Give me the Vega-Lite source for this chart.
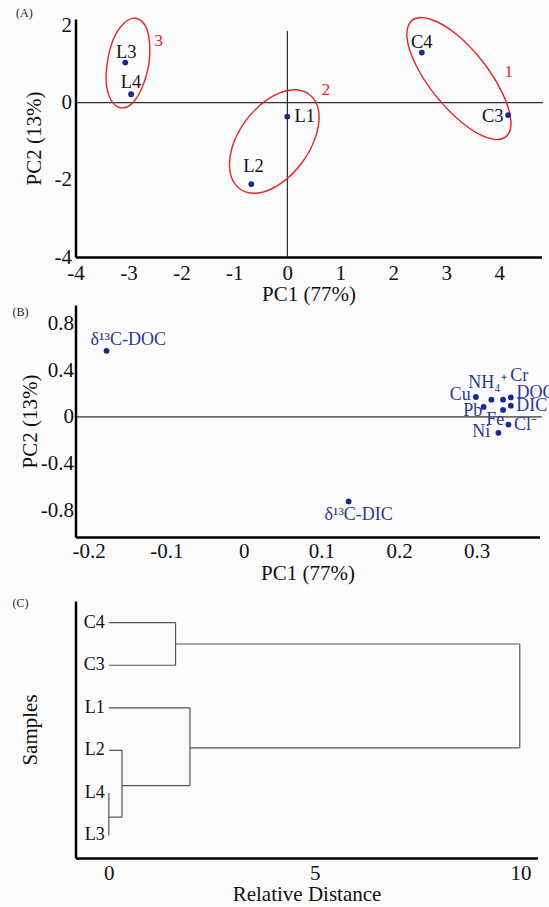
{
  "$schema": "https://vega.github.io/schema/vega-lite/v6.json",
  "background": "#fcfcfc",
  "padding": {"left": 12.5, "top": 7, "right": 0, "bottom": 0},
  "spacing": 0,
  "config": {
    "font": "Liberation Serif",
    "view": {"stroke": null},
    "axis": {
      "grid": false,
      "ticks": false,
      "tickSize": 0,
      "domainColor": "#000",
      "domainWidth": 2.5,
      "labelFont": "Liberation Serif",
      "titleFont": "Liberation Serif",
      "labelFontSize": 21,
      "titleFontSize": 21,
      "labelColor": "#111",
      "titleColor": "#111",
      "titleFontWeight": "normal",
      "labelFlush": false,
      "labelOverlap": false
    },
    "title": {
      "font": "Liberation Serif",
      "fontSize": 12,
      "fontWeight": "normal",
      "anchor": "start",
      "frame": "bounds",
      "color": "#222",
      "offset": 0
    }
  },
  "vconcat": [
    {
      "width": 466,
      "height": 238,
      "title": {"text": "(A)", "dx": -7, "dy": 9.5},
      "encoding": {
        "x": {
          "field": "x", "type": "quantitative",
          "scale": {"domain": [-4, 4.8], "nice": false, "zero": false},
          "axis": {"title": "PC1 (77%)", "values": [-4, -3, -2, -1, 0, 1, 2, 3, 4], "format": "d",
                   "labelFont": "Liberation Serif", "titleFont": "Liberation Serif",
                   "labelExpr": "replace(datum.label, '−', '-')", "labelPadding": 5.7, "titlePadding": 0}
        },
        "y": {
          "field": "y", "type": "quantitative",
          "scale": {"domain": [-4, 2.17], "nice": false, "zero": false},
          "axis": {"title": "PC2 (13%)", "values": [-4, -2, 0, 2], "format": "d",
                   "labelFont": "Liberation Serif", "titleFont": "Liberation Serif",
                   "labelExpr": "replace(datum.label, '−', '-')", "labelPadding": 4, "titlePadding": 10}
        }
      },
      "layer": [
        {
          "data": {"values": [{"x": 0, "y": 1.86, "y2": -4}]},
          "mark": {"type": "rule", "color": "#000", "strokeWidth": 1},
          "encoding": {"y2": {"field": "y2"}}
        },
        {
          "data": {"values": [{"x": -4, "x2": 4.83, "y": 0}]},
          "mark": {"type": "rule", "color": "#000", "strokeWidth": 1},
          "encoding": {"x2": {"field": "x2"}}
        },
        {
          "data": {"values": [
            {"grp": 1, "i": 0, "x": 4.13, "y": -0.88}, {"grp": 1, "i": 1, "x": 4.22, "y": -0.44},
            {"grp": 1, "i": 2, "x": 4.05, "y": 0.28}, {"grp": 1, "i": 3, "x": 3.67, "y": 1.10},
            {"grp": 1, "i": 4, "x": 3.17, "y": 1.80}, {"grp": 1, "i": 5, "x": 2.69, "y": 2.17},
            {"grp": 1, "i": 6, "x": 2.36, "y": 2.14}, {"grp": 1, "i": 7, "x": 2.26, "y": 1.70},
            {"grp": 1, "i": 8, "x": 2.43, "y": 0.97}, {"grp": 1, "i": 9, "x": 2.82, "y": 0.15},
            {"grp": 1, "i": 10, "x": 3.32, "y": -0.54}, {"grp": 1, "i": 11, "x": 3.80, "y": -0.92},
            {"grp": 2, "i": 0, "x": 0.41, "y": 0.22}, {"grp": 2, "i": 1, "x": 0.06, "y": 0.33},
            {"grp": 2, "i": 2, "x": -0.38, "y": 0.08}, {"grp": 2, "i": 3, "x": -0.78, "y": -0.46},
            {"grp": 2, "i": 4, "x": -1.04, "y": -1.15}, {"grp": 2, "i": 5, "x": -1.08, "y": -1.80},
            {"grp": 2, "i": 6, "x": -0.90, "y": -2.23}, {"grp": 2, "i": 7, "x": -0.55, "y": -2.34},
            {"grp": 2, "i": 8, "x": -0.12, "y": -2.09}, {"grp": 2, "i": 9, "x": 0.28, "y": -1.55},
            {"grp": 2, "i": 10, "x": 0.54, "y": -0.86}, {"grp": 2, "i": 11, "x": 0.59, "y": -0.21},
            {"grp": 3, "i": 0, "x": -2.86, "y": 2.19}, {"grp": 3, "i": 1, "x": -3.07, "y": 2.08},
            {"grp": 3, "i": 2, "x": -3.27, "y": 1.69}, {"grp": 3, "i": 3, "x": -3.39, "y": 1.12},
            {"grp": 3, "i": 4, "x": -3.42, "y": 0.53}, {"grp": 3, "i": 5, "x": -3.33, "y": 0.07},
            {"grp": 3, "i": 6, "x": -3.15, "y": -0.13}, {"grp": 3, "i": 7, "x": -2.94, "y": -0.03},
            {"grp": 3, "i": 8, "x": -2.75, "y": 0.37}, {"grp": 3, "i": 9, "x": -2.62, "y": 0.94},
            {"grp": 3, "i": 10, "x": -2.60, "y": 1.53}, {"grp": 3, "i": 11, "x": -2.68, "y": 1.99}
          ]},
          "mark": {"type": "line", "interpolate": "cardinal-closed", "color": "#e4232b", "strokeWidth": 1.4},
          "encoding": {"detail": {"field": "grp"}, "order": {"field": "i", "type": "quantitative"}}
        },
        {
          "data": {"values": [
            {"s": "L3", "x": -3.06, "y": 1.04}, {"s": "L4", "x": -2.95, "y": 0.22},
            {"s": "L1", "x": 0.0, "y": -0.36}, {"s": "L2", "x": -0.68, "y": -2.11},
            {"s": "C4", "x": 2.54, "y": 1.30}, {"s": "C3", "x": 4.17, "y": -0.32}
          ]},
          "mark": {"type": "circle", "size": 34, "color": "#1a2a8a", "opacity": 1}
        },
        {
          "data": {"values": [
            {"t": "L3", "x": -3.04, "y": 1.32}, {"t": "L4", "x": -2.95, "y": 0.53},
            {"t": "L1", "x": 0.33, "y": -0.35}, {"t": "L2", "x": -0.64, "y": -1.64},
            {"t": "C4", "x": 2.54, "y": 1.58}, {"t": "C3", "x": 3.88, "y": -0.35}
          ]},
          "mark": {"type": "text", "fontSize": 18.5, "color": "#111"},
          "encoding": {"text": {"field": "t"}}
        },
        {
          "data": {"values": [
            {"t": "1", "x": 4.18, "y": 0.79}, {"t": "2", "x": 0.73, "y": 0.33}, {"t": "3", "x": -2.43, "y": 1.61}
          ]},
          "mark": {"type": "text", "fontSize": 17, "color": "#e4232b"},
          "encoding": {"text": {"field": "t"}}
        }
      ]
    },
    {
      "width": 464,
      "height": 232,
      "title": {"text": "(B)", "dx": -7, "dy": 18},
      "encoding": {
        "x": {
          "field": "x", "type": "quantitative",
          "scale": {"domain": [-0.217, 0.381], "nice": false, "zero": false},
          "axis": {"title": ["PC1 (77%)", ""], "titleLineHeight": 12, "values": [-0.2, -0.1, 0, 0.1, 0.2, 0.3], "format": ".1~f",
                   "labelFont": "Liberation Serif", "titleFont": "Liberation Serif",
                   "labelExpr": "replace(datum.label, '−', '-')", "labelPadding": 3.9, "titlePadding": 1}
        },
        "y": {
          "field": "y", "type": "quantitative",
          "scale": {"domain": [-1.032, 0.962], "nice": false, "zero": false},
          "axis": {"title": "PC2 (13%)", "values": [-0.8, -0.4, 0, 0.4, 0.8], "format": ".1~f",
                   "labelFont": "Liberation Serif", "titleFont": "Liberation Serif",
                   "labelExpr": "replace(datum.label, '−', '-')", "labelPadding": 2, "titlePadding": -0.3}
        }
      },
      "layer": [
        {
          "data": {"values": [{"x": -0.217, "x2": 0.384, "y": 0}]},
          "mark": {"type": "rule", "color": "#000", "strokeWidth": 1},
          "encoding": {"x2": {"field": "x2"}}
        },
        {
          "data": {"values": [
            {"v": "δ13C-DOC", "x": -0.177, "y": 0.568}, {"v": "δ13C-DIC", "x": 0.135, "y": -0.726},
            {"v": "Cu", "x": 0.299, "y": 0.171}, {"v": "NH4+", "x": 0.319, "y": 0.148},
            {"v": "Cr", "x": 0.334, "y": 0.148}, {"v": "DOC", "x": 0.344, "y": 0.168},
            {"v": "Pb", "x": 0.309, "y": 0.086}, {"v": "Fe", "x": 0.334, "y": 0.060},
            {"v": "DIC", "x": 0.344, "y": 0.097}, {"v": "Cl-", "x": 0.341, "y": -0.066},
            {"v": "Ni", "x": 0.328, "y": -0.137}
          ]},
          "mark": {"type": "circle", "size": 34, "color": "#1a2a8a", "opacity": 1}
        },
        {
          "data": {"values": [
            {"t": "δ¹³C-DOC", "x": -0.149, "y": 0.662}, {"t": "δ¹³C-DIC", "x": 0.148, "y": -0.846},
            {"t": "NH₄⁺", "x": 0.314, "y": 0.294}, {"t": "Cr", "x": 0.355, "y": 0.348},
            {"t": "DOC", "x": 0.376, "y": 0.206}, {"t": "DIC", "x": 0.371, "y": 0.091},
            {"t": "Cu", "x": 0.279, "y": 0.191}, {"t": "Pb", "x": 0.295, "y": 0.048},
            {"t": "Fe", "x": 0.324, "y": -0.023}, {"t": "Cl⁻", "x": 0.363, "y": -0.066},
            {"t": "Ni", "x": 0.306, "y": -0.126}
          ]},
          "mark": {"type": "text", "fontSize": 18, "color": "#2b3a90"},
          "encoding": {"text": {"field": "t"}}
        }
      ]
    },
    {
      "width": 462,
      "height": 257,
      "title": {"text": "(C)", "dx": -7, "dy": 12.6},
      "encoding": {
        "x": {
          "field": "x", "type": "quantitative",
          "scale": {"domain": [-0.81, 10.41], "nice": false, "zero": false},
          "axis": {"title": "Relative Distance", "values": [0, 5, 10], "format": "d",
                   "labelFont": "Liberation Serif", "titleFont": "Liberation Serif",
                   "labelPadding": 4.7, "titlePadding": 0}
        },
        "y": {
          "field": "y", "type": "quantitative",
          "scale": {"domain": [0.47, 6.51], "nice": false, "zero": false},
          "axis": {"title": "Samples", "labels": false, "values": [], "titleFont": "Liberation Serif", "titlePadding": 35}
        }
      },
      "layer": [
        {
          "data": {"values": [
            {"x": 0, "x2": 1.62, "y": 6, "y2": 6},
            {"x": 0, "x2": 1.62, "y": 5, "y2": 5},
            {"x": 1.62, "x2": 1.62, "y": 5, "y2": 6},
            {"x": 1.62, "x2": 9.98, "y": 5.5, "y2": 5.5},
            {"x": 0, "x2": 1.97, "y": 4, "y2": 4},
            {"x": 0, "x2": 0.32, "y": 3, "y2": 3},
            {"x": 0, "x2": 0, "y": 1, "y2": 2},
            {"x": 0, "x2": 0.32, "y": 1.43, "y2": 1.43},
            {"x": 0.32, "x2": 0.32, "y": 1.43, "y2": 3},
            {"x": 0.32, "x2": 1.97, "y": 2.17, "y2": 2.17},
            {"x": 1.97, "x2": 1.97, "y": 2.17, "y2": 4},
            {"x": 1.97, "x2": 9.98, "y": 3.06, "y2": 3.06},
            {"x": 9.98, "x2": 9.98, "y": 3.06, "y2": 5.5}
          ]},
          "mark": {"type": "rule", "color": "#555", "strokeWidth": 1.2},
          "encoding": {"x2": {"field": "x2"}, "y2": {"field": "y2"}}
        },
        {
          "data": {"values": [
            {"leaf": "C4", "x": 0, "y": 6}, {"leaf": "C3", "x": 0, "y": 5},
            {"leaf": "L1", "x": 0, "y": 4}, {"leaf": "L2", "x": 0, "y": 3},
            {"leaf": "L4", "x": 0, "y": 2}, {"leaf": "L3", "x": 0, "y": 1}
          ]},
          "mark": {"type": "text", "fontSize": 18, "color": "#111", "align": "right", "dx": -4},
          "encoding": {"text": {"field": "leaf"}}
        }
      ]
    }
  ]
}
